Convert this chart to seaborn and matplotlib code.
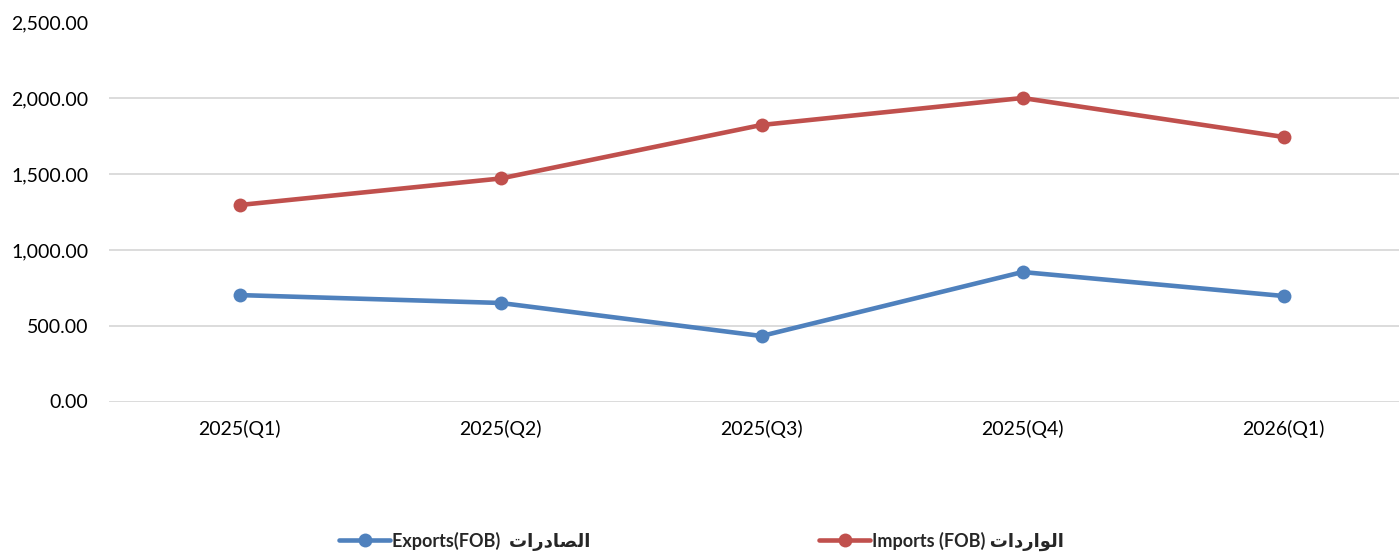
import pandas as pd
import matplotlib.pyplot as plt
import seaborn as sns
from matplotlib.lines import Line2D
from matplotlib.ticker import FuncFormatter

# -------------------------------
# Data
# -------------------------------
quarters = ["2025(Q1)", "2025(Q2)", "2025(Q3)", "2025(Q4)", "2026(Q1)"]
exports = [702, 650, 432, 854, 696]
imports = [1296, 1471, 1824, 2002, 1745]

# Arabic words in presentation forms, visual order (no shaping engine in matplotlib)
ar_exports = "\uFE95\uFE8D\uFEAD\uFEA9\uFE8E\uFEBC\uFEDF\uFE8D"   # الصادرات
ar_imports = "\uFE95\uFE8D\uFEA9\uFEAD\uFE8D\uFEEE\uFEDF\uFE8D"   # الواردات
label_exp = "Exports(FOB)  " + ar_exports
label_imp = "Imports (FOB) " + ar_imports

blue = "#4F81BD"
red = "#C0504D"

df = pd.DataFrame({
    "quarter": quarters * 2,
    "value": exports + imports,
    "series": [label_exp] * len(quarters) + [label_imp] * len(quarters),
})

# -------------------------------
# Plot
# -------------------------------
sns.set_style("white")
plt.rcParams["font.family"] = ["Lato", "DejaVu Sans"]

fig = plt.figure(figsize=(13.99, 5.56), dpi=100)
ax = fig.add_axes([109 / 1399, 154.5 / 556, 1305 / 1399, 379 / 556])

sns.lineplot(
    data=df, x="quarter", y="value", hue="series",
    palette={label_exp: blue, label_imp: red},
    marker="o", markersize=10, markeredgewidth=0, linewidth=3.3,
    sort=False, legend=False, ax=ax,
)

ax.set_xlim(-0.5, len(quarters) - 0.5)
ax.set_ylim(0, 2500)
ax.set_yticks(range(0, 2501, 500))
ax.yaxis.set_major_formatter(FuncFormatter(lambda v, p: f"{v:,.2f}"))
ax.grid(axis="y", color="#D9D9D9", linewidth=1.3)
ax.grid(axis="x", visible=False)
ax.set_axisbelow(True)
for s in ax.spines.values():
    s.set_visible(False)
ax.tick_params(axis="both", length=0, labelsize=14, colors="#000000")
ax.tick_params(axis="y", pad=15)
ax.tick_params(axis="x", pad=13)
ax.set_xlabel("")
ax.set_ylabel("")

# legend: two entries placed separately
for lab, col, x0 in [(label_exp, blue, 323 / 1399), (label_imp, red, 803 / 1399)]:
    h = Line2D([], [], color=col, linewidth=3.3, marker="o", markersize=10, markeredgewidth=0)
    fig.legend(
        [h], [lab], loc="center left", bbox_to_anchor=(x0, 15 / 556),
        frameon=False, handlelength=2.8, handletextpad=0.1,
        prop={"weight": "bold", "size": 13},
    )

fig.savefig("out.png", dpi=100)
